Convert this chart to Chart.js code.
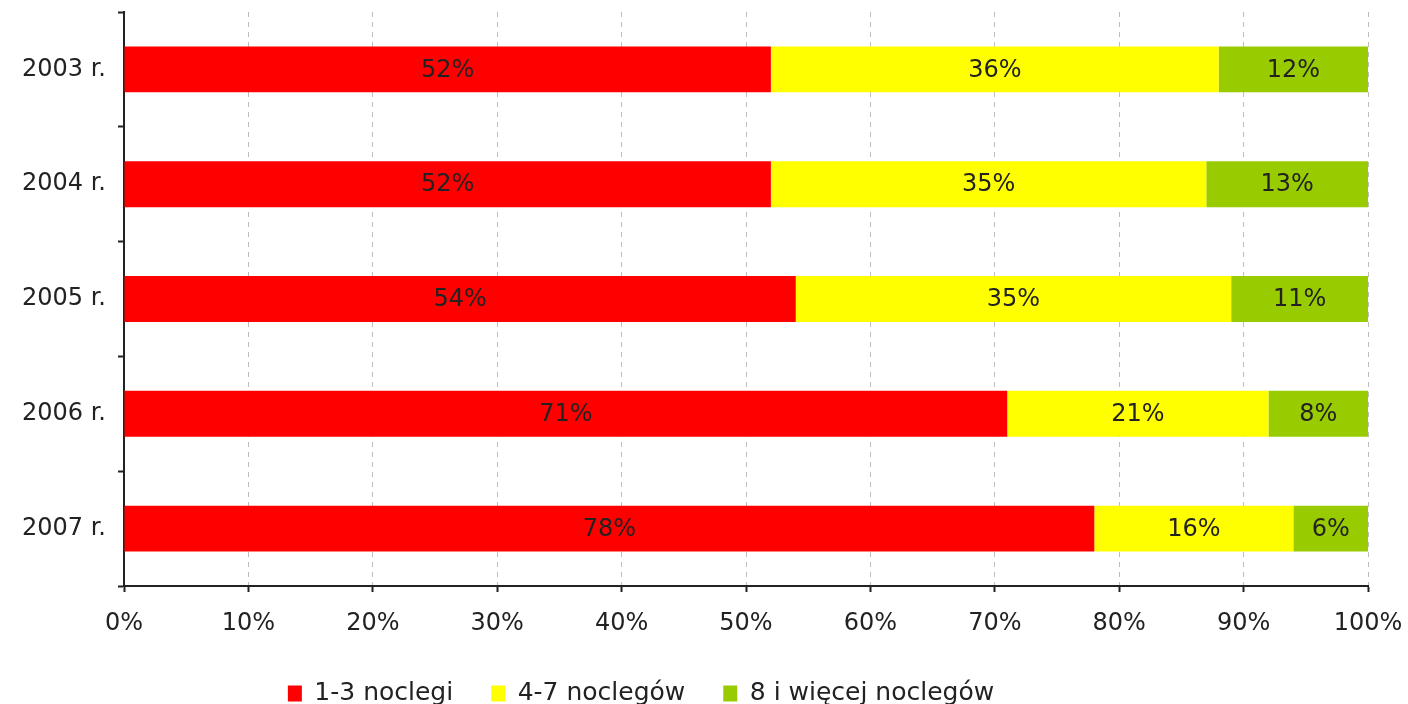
<!DOCTYPE html>
<html>
<head>
<meta charset="utf-8">
<script src="https://cdn.jsdelivr.net/npm/chart.js@4"></script>
<style>
  html, body { margin: 0; padding: 0; background: #fff; overflow: hidden; }
  #wrap { width: 1408px; height: 716px; position: relative; }
</style>
</head>
<body>
<div id="wrap"><canvas id="nights-chart"></canvas></div>
<script>
const years = ['2003 r.', '2004 r.', '2005 r.', '2006 r.', '2007 r.'];
const shortStay = [52, 52, 54, 71, 78];
const midStay = [36, 35, 35, 21, 16];
const longStay = [12, 13, 11, 8, 6];
const xTicks = [0, 10, 20, 30, 40, 50, 60, 70, 80, 90, 100];

const FONT = { family: 'DejaVu Sans', size: 24 };
const AXIS = '#222';

// prints the share in the middle of every bar segment
const segmentLabels = {
    id: 'segmentLabels',
    afterDatasetsDraw(chart) {
        const ctx = chart.ctx;
        ctx.save();
        ctx.font = `${FONT.size}px ${FONT.family}`;
        ctx.fillStyle = '#222';
        ctx.textAlign = 'center';
        ctx.textBaseline = 'middle';
        chart.data.datasets.forEach((ds, i) => {
            chart.getDatasetMeta(i).data.forEach((bar, j) => {
                const cx = (bar.x + bar.base) / 2;
                ctx.fillText(ds.data[j] + '%', cx, bar.y + 1);
            });
        });
        ctx.restore();
    }
};

// legend sits a bit left of the canvas centre
const legendShift = {
    id: 'legendShift',
    afterLayout(chart) {
        chart.legend.left -= 70;
        chart.legend.right -= 70;
    }
};

new Chart(document.getElementById('nights-chart'), {
    type: 'bar',
    data: {
        labels: years,
        datasets: [
            { label: '1-3 noclegi', data: shortStay, backgroundColor: '#ff0000' },
            { label: '4-7 noclegów', data: midStay, backgroundColor: '#ffff00' },
            { label: '8 i więcej noclegów', data: longStay, backgroundColor: '#99cc00' }
        ]
    },
    options: {
        indexAxis: 'y',
        responsive: true, maintainAspectRatio: false,
        animation: false,
        events: [],
        categoryPercentage: 1,
        barPercentage: 0.4,
        layout: { padding: { top: 0, right: 0, left: 14, bottom: 0 } },
        plugins: {
            legend: {
                position: 'bottom',
                labels: {
                    font: { family: 'DejaVu Sans', size: 25 }, color: '#222',
                    boxWidth: 14, boxHeight: 16,
                    padding: 38
                }
            },
            tooltip: { enabled: false }
        },
        scales: {
            x: {
                stacked: true,
                min: 0, max: 100,
                afterBuildTicks: s => { s.ticks = xTicks.map(v => ({ value: v })); },
                afterFit: s => { s.height = 57; s.paddingLeft = 0; s.paddingRight = 40; },
                ticks: { font: FONT, color: '#222', padding: 17, callback: v => v + '%' },
                grid: {
                    color: '#bdbdbd', lineWidth: 1,
                    tickColor: AXIS, tickLength: 6, tickBorderDash: [], tickWidth: 2
                },
                border: { color: AXIS, width: 2, dash: [5, 5] }
            },
            y: {
                stacked: true,
                afterFit: s => { s.width = 110; s.paddingTop = 12; s.paddingBottom = 0; },
                ticks: { font: FONT, color: '#222', padding: 12 },
                grid: {
                    drawOnChartArea: false, offset: true,
                    tickColor: AXIS, tickLength: 6, tickWidth: 2
                },
                border: { color: AXIS, width: 2 }
            }
        }
    },
    plugins: [segmentLabels, legendShift]
});
</script>
</body>
</html>
